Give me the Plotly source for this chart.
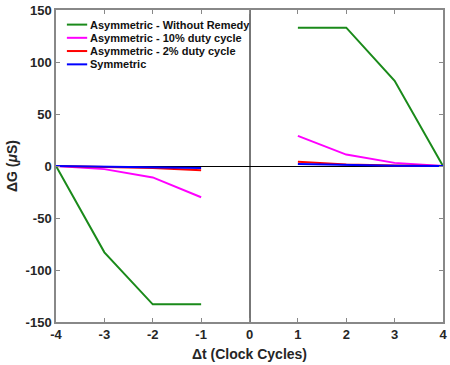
import plotly.graph_objects as go

x_left = [-4, -3, -2, -1]
x_right = [1, 2, 3, 4]

green_left = [0, -83, -133, -133]
green_right = [133, 133, 82, 0]
magenta_left = [0, -3, -11, -30]
magenta_right = [29, 11, 3, 0]
red_left = [0, -1, -2, -4]
red_right = [4, 1.5, 0.5, 0]
blue_left = [0, -0.5, -1, -2]
blue_right = [2, 1, 0.3, 0]

names = ["Asymmetric - Without Remedy", "Asymmetric - 10% duty cycle",
         "Asymmetric - 2% duty cycle", "Symmetric"]
colors = ["#1a8a1a", "#ff00ff", "#ff0000", "#0000ff"]
series = [(green_left, green_right), (magenta_left, magenta_right),
          (red_left, red_right), (blue_left, blue_right)]

x_ticks = [-4, -3, -2, -1, 0, 1, 2, 3, 4]
x_ticktext = ["-4", "-3", "-2", "-1", "0", "1", "2", "3", "4"]
y_ticks = [-150, -100, -50, 0, 50, 100, 150]
y_ticktext = ["-150", "-100", "-50", "0", "50", "100", "150"]

W, H = 450, 365
ML, MR, MT, MB = 56, 3, 8, 43
PW, PH = W - ML - MR, H - MT - MB


def px2x(px):
    return (px - ML) / PW


def px2y(py):
    return 1 - (py - MT) / PH


fig = go.Figure()
for name, col, (yl, yr) in zip(names, colors, series):
    fig.add_trace(go.Scatter(x=x_left, y=yl, mode="lines", name=name,
                             line=dict(color=col, width=2), showlegend=False))
    fig.add_trace(go.Scatter(x=x_right, y=yr, mode="lines", name=name,
                             line=dict(color=col, width=2), showlegend=False))

# custom compact legend
leg_rows = [22.7, 36, 49.3, 62.7]
for name, col, py in zip(names, colors, leg_rows):
    yp = px2y(py)
    fig.add_shape(type="line", xref="paper", yref="paper",
                  x0=px2x(67), x1=px2x(87.5), y0=yp, y1=yp,
                  line=dict(color=col, width=2))
    fig.add_annotation(xref="paper", yref="paper", x=px2x(88), y=yp,
                       xanchor="left", yanchor="middle", showarrow=False,
                       text=name, font=dict(size=11, color="#111",
                                            family="Liberation Sans, Arial, sans-serif",
                                            weight="bold"))

font = dict(family="Liberation Sans, Arial, sans-serif", color="#262626", weight="bold")

fig.update_layout(
    width=W, height=H,
    margin=dict(l=ML, r=MR, t=MT, b=MB),
    paper_bgcolor="white", plot_bgcolor="white",
    font=dict(family="Liberation Sans, Arial, sans-serif", size=12, color="#262626"),
    showlegend=False,
    xaxis=dict(range=[-4, 4], tickvals=x_ticks, ticktext=x_ticktext,
               ticks="inside", ticklen=4,
               tickcolor="#888", showline=True, linecolor="#888", linewidth=1.5,
               mirror="ticks", showgrid=False,
               zeroline=True, zerolinecolor="#777", zerolinewidth=1.5,
               tickfont=dict(size=13, **font),
               title=dict(text="Δt (Clock Cycles)", standoff=8,
                          font=dict(size=14, **font))),
    yaxis=dict(range=[-150, 150], tickvals=y_ticks, ticktext=y_ticktext,
               ticks="inside", ticklen=4,
               tickcolor="#888", showline=True, linecolor="#888", linewidth=1.5,
               mirror="ticks", showgrid=False,
               zeroline=True, zerolinecolor="#000", zerolinewidth=1,
               tickfont=dict(size=13, **font),
               title=dict(text="ΔG (<i>μ</i>S)", standoff=5,
                          font=dict(size=14, **font))),
)

fig.write_html("out.html", config={"displayModeBar": False},
               post_script="document.body.style.margin='0';document.body.style.overflow='hidden';")
